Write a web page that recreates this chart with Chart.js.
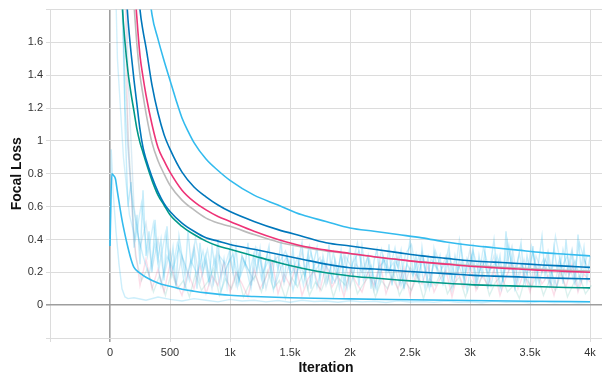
<!DOCTYPE html>
<html>
<head>
<meta charset="utf-8">
<script src="https://cdn.jsdelivr.net/npm/chart.js@4.4.1/dist/chart.umd.min.js"></script>
<style>
html,body{margin:0;padding:0;background:#fff;}
#wrap{width:602px;height:374px;position:relative;}
</style>
</head>
<body>
<div id="wrap"><canvas id="c" width="602" height="374"></canvas></div>
<script>
// ---- Data ----
const smoothIters = [50,75,100,125,150,175,200,225,250,275,300,350,400,450,500,600,700,800,900,1000,1200,1400,1600,1800,2000,2200,2400,2600,2800,3000,3200,3400,3600,3800,4000];

const runAIters = [100,200,300,350,400,450,500,550,600,650,700,800,900,1000,1200,1400,1600,1800,2000,2200,2400,2600,2800,3000,3200,3400,3600,3800,4000];
const runA = [6,3.5,2.1,1.77,1.62,1.49,1.37,1.25,1.14,1.06,0.99,0.89,0.82,0.76,0.67,0.61,0.55,0.51,0.47,0.45,0.43,0.41,0.385,0.365,0.35,0.335,0.32,0.31,0.30];
const runB = [6.5,6,5,4.2,3.5,2.9,2.4,2.05,1.8,1.67,1.57,1.34,1.17,1.04,0.95,0.81,0.72,0.66,0.61,0.57,0.51,0.46,0.42,0.38,0.36,0.34,0.32,0.30,0.285,0.27,0.262,0.254,0.245,0.238,0.23];
const runC = [5.5,4.8,4,3.3,2.8,2.35,2.0,1.74,1.52,1.39,1.28,1.10,0.96,0.88,0.81,0.70,0.63,0.58,0.54,0.51,0.45,0.40,0.36,0.335,0.315,0.295,0.278,0.262,0.25,0.237,0.228,0.22,0.212,0.206,0.20];
const runD = [5,4.2,3.5,2.9,2.5,2.1,1.83,1.58,1.40,1.28,1.17,0.99,0.88,0.80,0.73,0.64,0.58,0.53,0.50,0.48,0.43,0.385,0.355,0.33,0.313,0.295,0.278,0.263,0.252,0.242,0.234,0.226,0.219,0.213,0.208];
const runE = [4,3,2.3,2.0,1.74,1.54,1.37,1.22,1.07,0.96,0.89,0.78,0.69,0.62,0.57,0.50,0.45,0.41,0.39,0.37,0.34,0.31,0.28,0.25,0.228,0.22,0.21,0.20,0.192,0.183,0.177,0.172,0.167,0.163,0.16];
const runF = [3.2,2.4,1.86,1.60,1.42,1.29,1.18,1.07,0.99,0.93,0.87,0.76,0.67,0.61,0.55,0.48,0.43,0.39,0.36,0.34,0.30,0.26,0.225,0.197,0.178,0.165,0.153,0.143,0.133,0.125,0.12,0.116,0.112,0.108,0.105];

const runGIters = [0,15,30,45,60,75,100,125,150,175,200,250,300,400,500,600,700,800,1000,1200,1500,2000,2500,3000,3500,4000];
const runG = [0.36,0.80,0.79,0.77,0.70,0.63,0.52,0.43,0.35,0.28,0.23,0.195,0.17,0.135,0.115,0.097,0.085,0.075,0.06,0.053,0.045,0.038,0.033,0.028,0.024,0.021];

// raw (unsmoothed) series
const rawAStep = 25;
const rawA = [8,6,4,3,2.2,1.1,0.6,0.75,0.35,0.55,
0.25,0.7,0.3,0.45,0.2,0.52,0.28,0.4,0.15,0.48,
0.22,0.35,0.12,0.42,0.3,0.18,0.45,0.25,0.33,0.1,
0.38,0.2,0.3,0.14,0.36,0.22,0.4,0.16,0.28,0.12,
0.33,0.2,0.35,0.15,0.3,0.24,0.38,0.12,0.3,0.2,
0.34,0.1,0.28,0.36,0.16,0.3,0.22,0.4,0.14,0.3,
0.2,0.35,0.12,0.29,0.38,0.18,0.32,0.1,0.27,0.35,
0.15,0.3,0.21,0.37,0.13,0.28,0.2,0.33,0.11,0.26,
0.35,0.17,0.3,0.12,0.36,0.22,0.3,0.1,0.27,0.34,
0.15,0.29,0.19,0.37,0.12,0.28,0.23,0.33,0.1,0.26,
0.4,0.18,0.3,0.13,0.35,0.2,0.29,0.11,0.34,0.22,
0.3,0.14,0.27,0.36,0.16,0.3,0.2,0.38,0.12,0.28,
0.22,0.35,0.13,0.3,0.18,0.33,0.1,0.27,0.4,0.2,
0.3,0.14,0.45,0.22,0.31,0.12,0.28,0.38,0.16,0.3,
0.2,0.36,0.12,0.28,0.42,0.18,0.3,0.11,0.35,0.22,
0.29,0.13,0.4,0.2,0.32,0.12,0.43,0.22,0.35,0.15,
0.3];
const rawA2Start = 12;
const rawA2 = [3,1.5,0.9,0.55,0.4,0.62,0.3,0.5,0.24,0.44,
0.18,0.38,0.27,0.15,0.41,0.22,0.34,0.13,0.3,0.25,
0.37,0.11,0.28,0.2,0.35,0.16,0.31,0.09,0.26,0.33,
0.19,0.29,0.12,0.36,0.21,0.27,0.14,0.32,0.1,0.3,
0.23,0.38,0.15,0.28,0.11,0.34,0.2,0.26,0.13,0.31,
0.37,0.17,0.29,0.1,0.33,0.22,0.27,0.12,0.4,0.19,
0.3,0.14,0.35,0.21,0.26,0.1,0.39,0.18,0.31,0.13,
0.36,0.2,0.28,0.12,0.42,0.23,0.3,0.15,0.38,0.25];
const rawStep = 50;
const rawB = [9,7,3.5,1.4,0.6,0.35,0.5,0.22,0.4,0.18,
0.33,0.12,0.3,0.2,0.36,0.14,0.27,0.1,0.32,0.19,
0.28,0.12,0.3,0.22,0.15,0.32,0.1,0.25,0.3,0.13,
0.27,0.18,0.33,0.1,0.24,0.29,0.12,0.26,0.17,0.31,
0.11,0.25,0.2,0.3,0.09,0.24,0.28,0.14,0.3,0.1,
0.23,0.18,0.32,0.12,0.26,0.2,0.3,0.09,0.25,0.16,
0.34,0.12,0.27,0.19,0.3,0.1,0.24,0.36,0.14,0.28,
0.11,0.3,0.2,0.33,0.12,0.26,0.18,0.34,0.1,0.28,
0.2];
const rawEStart = 25;
const rawE = [6,2.5,1.2,0.7,0.45,0.3,0.18,0.38,0.12,0.3,
0.22,0.35,0.1,0.27,0.19,0.33,0.13,0.29,0.08,0.24,
0.31,0.15,0.26,0.1,0.34,0.2,0.28,0.12,0.23,0.3,
0.09,0.25,0.18,0.32,0.11,0.27,0.21,0.14,0.3,0.1,
0.26,0.33,0.16,0.24,0.09,0.29,0.2,0.35,0.12,0.25,
0.18,0.3,0.1,0.28,0.22,0.13,0.31,0.17,0.26,0.09,
0.33,0.2,0.27,0.12,0.3,0.15,0.36,0.1,0.25,0.19,
0.32,0.13,0.28,0.21,0.11,0.34,0.18,0.27,0.14,0.3];
const rawC = [8,6,3,1.0,0.4,0.12,0.28,0.1,0.22,0.08,
0.25,0.14,0.06,0.2,0.1,0.24,0.07,0.18,0.12,0.26,
0.08,0.2,0.13,0.05,0.22,0.1,0.17,0.27,0.07,0.19,
0.12,0.24,0.06,0.16,0.21,0.09,0.25,0.11,0.18,0.05,
0.22,0.14,0.08,0.2,0.12,0.26,0.07,0.17,0.1,0.23,
0.06,0.19,0.13,0.24,0.08,0.16,0.21,0.05,0.2,0.11,
0.25,0.09,0.18,0.12,0.22,0.06,0.17,0.26,0.1,0.2,
0.08,0.23,0.13,0.18,0.06,0.21,0.11,0.25,0.08,0.19,
0.14];
const rawF = [5,3.5,1.6,0.9,0.3,0.15,0.22,0.08,0.18,0.06,
0.2,0.1,0.15,0.05,0.19,0.09,0.14,0.22,0.06,0.16,
0.1,0.2,0.05,0.13,0.18,0.08,0.21,0.1,0.15,0.04,
0.17,0.11,0.2,0.06,0.14,0.09,0.19,0.05,0.16,0.12,
0.21,0.07,0.13,0.18,0.05,0.15,0.1,0.2,0.06,0.14,
0.09,0.18,0.04,0.16,0.12,0.21,0.07,0.13,0.17,0.05,
0.15,0.1,0.2,0.06,0.14,0.18,0.08,0.12,0.04,0.17,
0.11,0.19,0.06,0.15,0.09,0.2,0.05,0.13,0.18,0.07,
0.12];
const rawGIters = [0,10,25,50,75,100,125,150,200,300,400,500,600,700,800,900,1000,1100,1200,1300,1400,1500,1600,1700,1800,1900,2000,2100,2200,2300,2400,2500,2600,2700,2800,2900,3000,3100,3200,3300,3400,3500,3600,3700,3800,3900,4000];
const rawG = [0.36,0.95,0.7,0.45,0.25,0.1,0.05,0.04,
0.045,0.03,0.05,0.035,0.025,0.04,0.03,0.02,0.035,0.025,
0.03,0.02,0.028,0.018,0.03,0.022,0.025,0.018,0.027,0.02,
0.024,0.016,0.026,0.019,0.022,0.017,0.025,0.018,0.021,0.015,
0.023,0.017,0.02,0.014,0.022,0.016,0.019,0.015,0.018];

const xTickValues = [0,500,1000,1500,2000,2500,3000,3500,4000];
const xTickLabels = ['0','500','1k','1.5k','2k','2.5k','3k','3.5k','4k'];

// ---- Build ----
function pts(xs, ys){ const n=Math.min(xs.length, ys.length); const o=[]; for(let i=0;i<n;i++) o.push({x:xs[i], y:ys[i]}); return o; }
function stepPts(start, step, ys){ return ys.map((v,i)=>({x:start+i*step, y:v})); }

const CYAN='#33bbee', BLUE='#0077bb', MAG='#ee3377', GREY='#bbbbbb', TEAL='#009988';
function rgba(hex,a){ const n=parseInt(hex.slice(1),16); return `rgba(${n>>16&255},${n>>8&255},${n&255},${a})`; }
function smooth(data,color){ return {data, borderColor:color, borderWidth:1.6, pointRadius:0, cubicInterpolationMode:'monotone', fill:false, order:0}; }
function raw(data,color){ return {data, borderColor:color, borderWidth:1.4, pointRadius:0, tension:0, fill:false, order:1}; }

const datasets = [
  smooth(pts(runAIters, runA), CYAN),
  smooth(pts(smoothIters, runB), BLUE),
  smooth(pts(smoothIters, runC), MAG),
  smooth(pts(smoothIters, runD), GREY),
  smooth(pts(smoothIters, runE), BLUE),
  smooth(pts(smoothIters, runF), TEAL),
  smooth(pts(runGIters, runG), CYAN),
  raw(stepPts(0, rawAStep, rawA), rgba(CYAN,0.28)),
  raw(stepPts(rawA2Start, rawStep, rawA2), rgba(CYAN,0.22)),
  raw(stepPts(0, rawStep, rawB), rgba(BLUE,0.14)),
  raw(stepPts(rawEStart, rawStep, rawE), rgba(CYAN,0.24)),
  raw(stepPts(0, rawStep, rawC), rgba(MAG,0.16)),
  raw(stepPts(12, rawStep, rawF), rgba(TEAL,0.14)),
  raw(pts(rawGIters, rawG), rgba(CYAN,0.25)),
];

const FONT = "'Liberation Sans', Arial, sans-serif";
new Chart(document.getElementById('c'), {
  type:'line',
  data:{datasets},
  options:{
    responsive:false, animation:false, events:[],
    layout:{padding:{top:7,right:0,left:0,bottom:0}},
    plugins:{legend:{display:false}, tooltip:{enabled:false}},
    scales:{
      x:{
        type:'linear', min:-500, max:4100,
        afterBuildTicks:(s)=>{ s.ticks=[-500].concat(xTickValues).map(v=>({value:v})); },
        afterFit:(s)=>{ s.height=36; },
        border:{display:false},
        grid:{color:(c)=>c.tick && c.tick.value===0 ? '#9e9e9e' : '#dcdcdc', lineWidth:(c)=>c.tick && c.tick.value===0 ? 1.6 : 1, tickLength:4},
        ticks:{padding:4, color:'#333', font:{family:FONT,size:11}, maxRotation:0, autoSkip:false,
          callback:(v)=>{ const i=xTickValues.indexOf(v); return i>=0 ? xTickLabels[i] : ''; }},
        title:{display:true, text:'Iteration', color:'#111', font:{family:FONT,size:14,weight:'bold'}, padding:{top:0,bottom:-3}}
      },
      y:{
        type:'linear', min:-0.2, max:1.8,
        ticks:{stepSize:0.2, padding:3, color:'#333', font:{family:FONT,size:11},
          callback:(v)=>{ if(v<-0.01||v>1.7) return ''; return String(Math.round(v*10)/10); }},
        afterFit:(s)=>{ s.width=50; },
        border:{display:false},
        grid:{color:(c)=>c.tick && Math.abs(c.tick.value)<1e-9 ? '#9e9e9e' : '#dcdcdc', lineWidth:(c)=>c.tick && Math.abs(c.tick.value)<1e-9 ? 1.6 : 1, tickLength:4},
        title:{display:true, text:'Focal Loss', color:'#111', font:{family:FONT,size:14,weight:'bold'}, padding:{top:9,bottom:0}}
      }
    }
  }
});
</script>
</body>
</html>
